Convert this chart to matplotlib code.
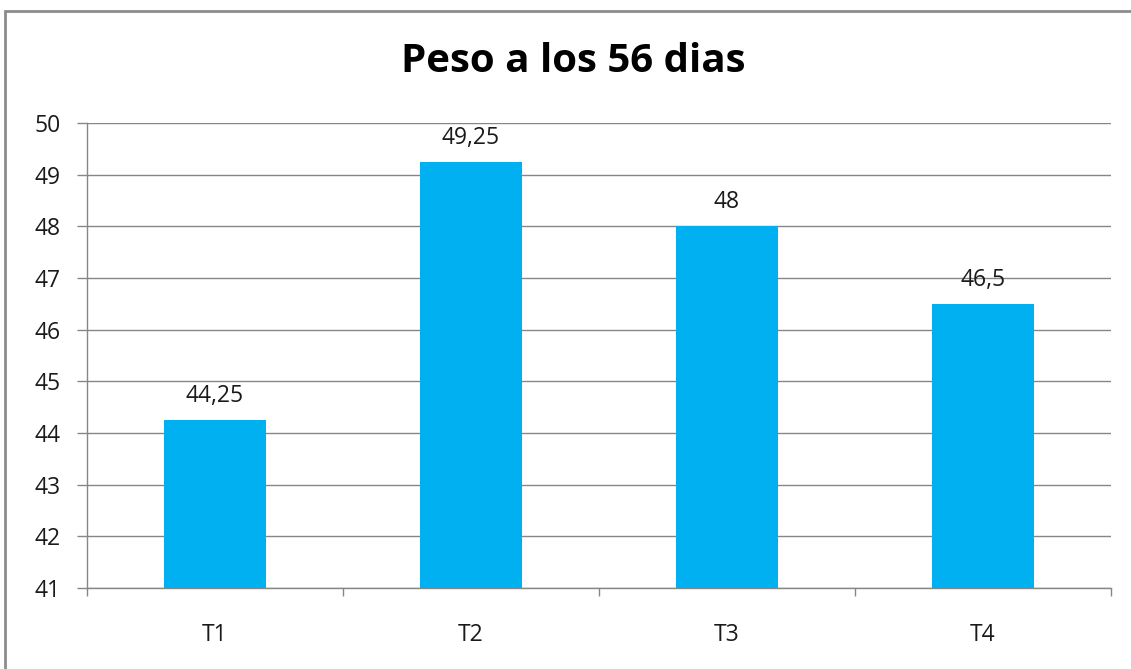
import matplotlib.pyplot as plt
from matplotlib.patches import Rectangle

# Peso promedio por tratamiento
tratamientos = ['T1', 'T2', 'T3', 'T4']
peso = [44.25, 49.25, 48, 46.5]
y_ticks = list(range(41, 51))

bar_color = '#00B0F0'
line_color = '#868686'
text_color = '#1a1a1a'
plt.rcParams['font.family'] = ['Open Sans', 'DejaVu Sans']

fig = plt.figure(figsize=(11.31, 6.69), dpi=100)
ax = fig.add_axes([87 / 1131, 1 - 588 / 669, (1111 - 87) / 1131, (588 - 123) / 669])

x = range(len(tratamientos))
ax.bar(x, [p - 41 for p in peso], bottom=41, width=0.4, color=bar_color, zorder=3)

for xi, p in zip(x, peso):
    txt = f'{p:g}'.replace('.', ',')
    ax.annotate(txt, (xi, p), xytext=(0, 13), textcoords='offset points',
                ha='center', va='baseline', fontsize=16.5, color=text_color)

ax.set_xlim(-0.5, len(tratamientos) - 0.5)
ax.set_ylim(41, 50)
ax.set_yticks(y_ticks)
ax.tick_params(axis='y', length=7, width=1, color=line_color, pad=12,
               labelsize=16.5, labelcolor=text_color)

# ticks at category boundaries, labels at category centres
ax.set_xticks([i - 0.5 for i in range(len(tratamientos) + 1)])
ax.set_xticklabels([])
ax.tick_params(axis='x', which='major', length=6, width=1, color=line_color)
ax.set_xticks(list(x), minor=True)
ax.set_xticklabels(tratamientos, minor=True)
ax.tick_params(axis='x', which='minor', length=0, pad=25,
               labelsize=16.5, labelcolor=text_color)

ax.grid(axis='y', color=line_color, linewidth=1, zorder=0)
for side in ['top', 'right']:
    ax.spines[side].set_visible(False)
for side in ['left', 'bottom']:
    ax.spines[side].set_color(line_color)
    ax.spines[side].set_linewidth(1)

fig.text(573 / 1131, 1 - 62 / 669, 'Peso a los 56 dias', ha='center', va='center',
         fontsize=29, fontweight='bold', color='black')

# outer chart frame
fig.add_artist(Rectangle((5 / 1131, -0.1), 1.2, 1 - 11 / 669 + 0.1,
                         transform=fig.transFigure, fill=False,
                         edgecolor='#8c8c8c', linewidth=2, clip_on=False))

fig.savefig('out.png', dpi=100)
